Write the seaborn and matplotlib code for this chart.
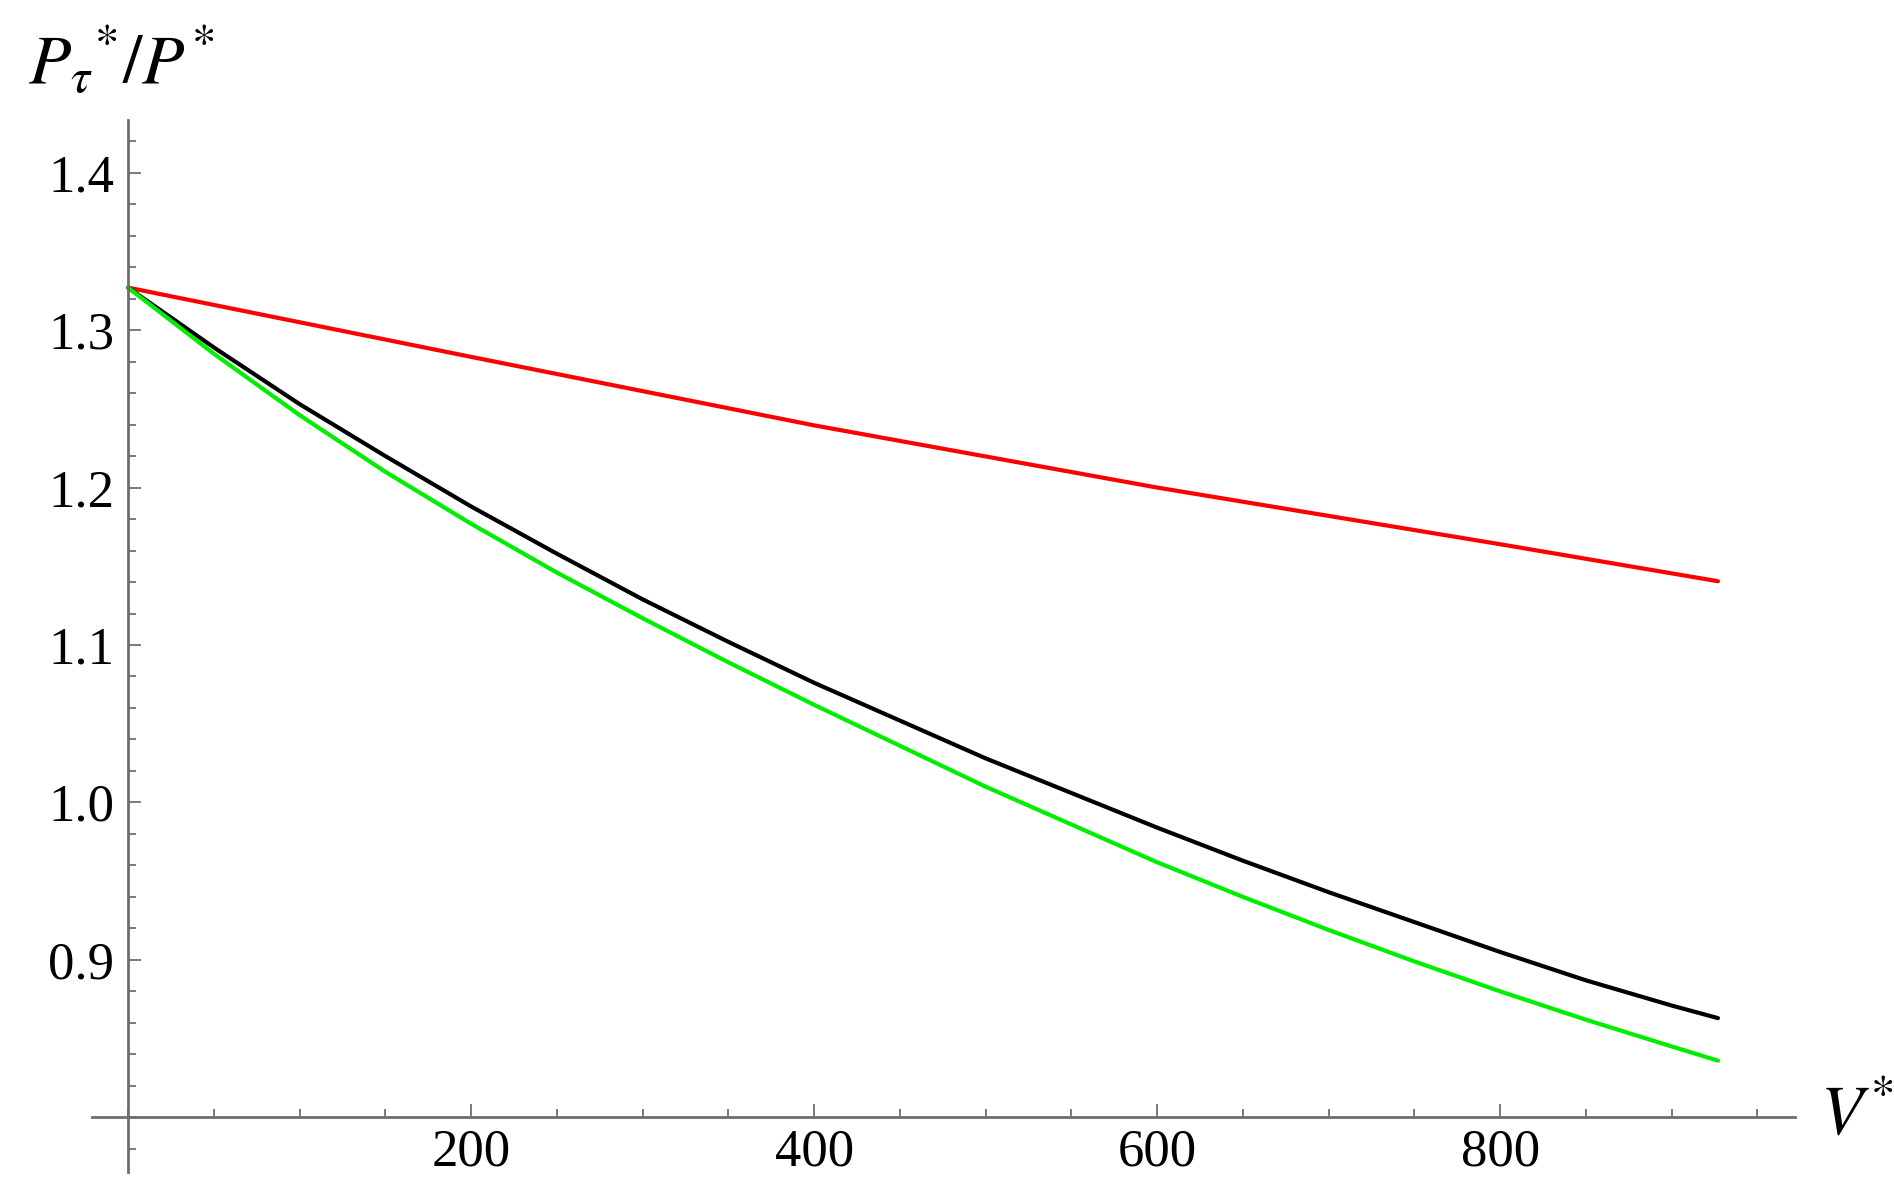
import numpy as np
import pandas as pd
import seaborn as sns
import matplotlib.pyplot as plt
from matplotlib.ticker import MultipleLocator, FormatStrFormatter

# values
v_curve = [0, 50, 100, 150, 200, 250, 300, 350, 400, 450, 500,
           550, 600, 650, 700, 750, 800, 850, 900, 927]
black_vals = [1.327, 1.289, 1.253, 1.220, 1.188, 1.158, 1.129, 1.102, 1.076, 1.052, 1.028,
              1.006, 0.984, 0.963, 0.943, 0.924, 0.905, 0.887, 0.871, 0.863]
green_vals = [1.327, 1.285, 1.246, 1.210, 1.177, 1.146, 1.117, 1.089, 1.062, 1.036, 1.010,
              0.986, 0.962, 0.940, 0.919, 0.899, 0.880, 0.862, 0.845, 0.836]
v_red = [0, 200, 400, 600, 800, 927]
red_vals = [1.327, 1.283, 1.2395, 1.200, 1.164, 1.1405]

x_major = [200, 400, 600, 800]
y_major = [0.9, 1.0, 1.1, 1.2, 1.3, 1.4]

df = pd.concat([
    pd.DataFrame({'V': v_red, 'ratio': red_vals, 'curve': 'red'}),
    pd.DataFrame({'V': v_curve, 'ratio': black_vals, 'curve': 'black'}),
    pd.DataFrame({'V': v_curve, 'ratio': green_vals, 'curve': 'green'}),
])

sns.set_style('white')
plt.rcParams['font.family'] = ['Liberation Serif', 'DejaVu Serif']
plt.rcParams['mathtext.fontset'] = 'stix'
plt.rcParams['text.color'] = 'black'

fig = plt.figure(figsize=(18.94, 11.97), dpi=100)
ax = fig.add_axes([0.0486, 0.0212, 0.8992, 0.8786])

sns.lineplot(data=df, x='V', y='ratio', hue='curve',
             palette={'red': '#ff0000', 'black': '#000000', 'green': '#00ee00'},
             linewidth=3, legend=False, ax=ax, sort=False)

ax.set_xlim(-21, 972)
ax.set_ylim(0.7655, 1.4335)

# mathematica style axes crossing at (0, 0.8)
for s in ['top', 'right']:
    ax.spines[s].set_visible(False)
ax.spines['left'].set_position(('data', 0))
ax.spines['bottom'].set_position(('data', 0.8))
for s in ['left', 'bottom']:
    ax.spines[s].set_color('#6e6e6e')
    ax.spines[s].set_linewidth(2)

ax.set_xticks(x_major)
ax.set_yticks(y_major)
ax.xaxis.set_minor_locator(MultipleLocator(50))
ax.yaxis.set_minor_locator(MultipleLocator(0.02))
ax.yaxis.set_major_formatter(FormatStrFormatter('%.1f'))
ax.tick_params(which='both', bottom=True, left=True, direction='in', color='#6e6e6e')
ax.tick_params(which='major', length=9.5, width=1.3, labelsize=38, labelcolor='black')
ax.tick_params(which='minor', length=5.5, width=1.3)
ax.tick_params(axis='y', which='major', pad=10)
ax.tick_params(axis='x', which='major', pad=8)
ax.set_xlabel('')
ax.set_ylabel('')

fig.text(0.015, 0.93, r'$P_{\tau}{}^{*}/P^{*}$', fontsize=50, ha='left', va='baseline')
fig.text(0.961, 0.052, r'$V^{*}$', fontsize=50, ha='left', va='baseline')

fig.savefig('out.png', dpi=100)
